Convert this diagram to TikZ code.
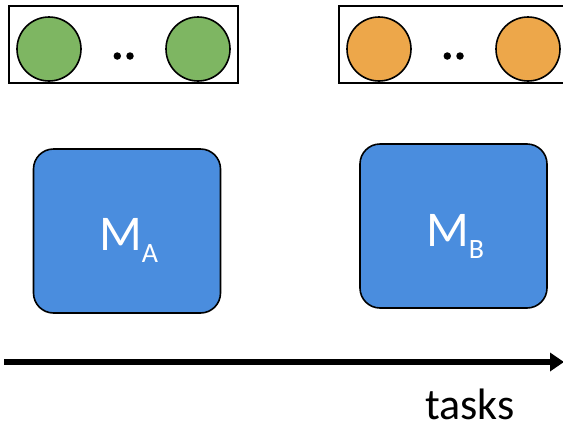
\documentclass[tikz,border=0pt]{standalone}
\usepackage{fontspec}
\setmainfont{Carlito}
\usetikzlibrary{arrows.meta}
\definecolor{leafgreen}{RGB}{126,182,98}
\definecolor{amber}{RGB}{237,167,74}
\definecolor{modelblue}{RGB}{74,141,222}
\tikzset{
  group/.style={draw=black, line width=2pt, fill=white, minimum width=229pt,
    minimum height=77pt, inner sep=0pt},
  unit/.style={circle, draw=black, line width=1.6pt, minimum size=64pt, inner sep=0pt},
  dot/.style={circle, fill=black, minimum size=7.5pt, inner sep=0pt},
  model/.style={draw=black, line width=1.6pt, fill=modelblue, rounded corners=20pt,
    minimum width=187pt, minimum height=164pt, inner sep=0pt},
  modellabel/.style={anchor=base west, inner sep=0pt, text=white,
    font=\fontsize{50}{50}\selectfont},
  axis/.style={line width=6pt, -{Triangle[length=14pt,width=18pt]}},
}
\newcommand{\modelname}[1]{M\raisebox{-12pt}[0pt][0pt]{\fontsize{28}{28}\selectfont #1}}
\begin{document}
\begin{tikzpicture}[x=1pt,y=-1pt]
  \useasboundingbox (0,0) rectangle (563,429);
  \clip (0,0) rectangle (563,429);

  % task A: group of units
  \node[group] (ga) at (123.5,44.5) {};
  \node[unit, fill=leafgreen] (a1) at (49,49) {};
  \node[unit, fill=leafgreen] (a2) at (198,49) {};
  \node[dot] (ad1) at (117.3,56) {};
  \node[dot] (ad2) at (130,56) {};

  % task B: group of units
  \node[group] (gb) at (453.5,44.5) {};
  \node[unit, fill=amber] (b1) at (379,49) {};
  \node[unit, fill=amber] (b2) at (528,49) {};
  \node[dot] (bd1) at (447.3,56) {};
  \node[dot] (bd2) at (460,56) {};

  % models
  \node[model] (ma) at (127,231) {};
  \node[modellabel] (ma-label) at (99,250) {\modelname{A}};
  \node[model] (mb) at (453.5,226) {};
  \node[modellabel] (mb-label) at (426,246) {\modelname{B}};

  % task axis
  \coordinate (t0) at (4,362);
  \coordinate (t1) at (564,362);
  \draw[axis] (t0) -- (t1);
  \node[font=\fontsize{44}{44}\selectfont, anchor=base, inner sep=0pt] (tasks) at (470,419) {tasks};
\end{tikzpicture}
\end{document}
